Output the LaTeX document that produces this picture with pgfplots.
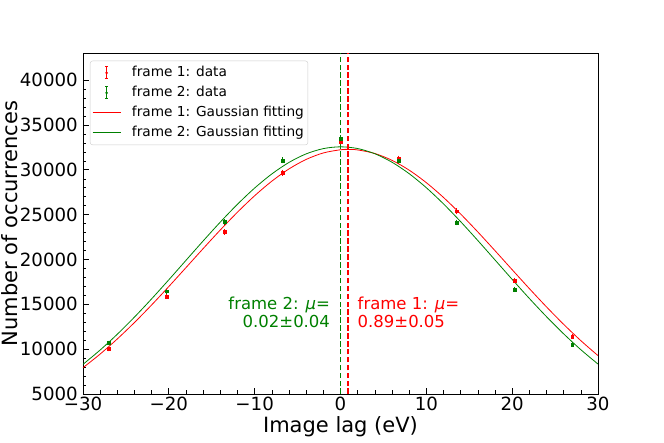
\documentclass[border=0pt]{standalone}
\usepackage{pgfplots}
\pgfplotsset{compat=1.18}
\usepackage{fontspec}
\setmainfont{DejaVu Sans}
\definecolor{mplgreen}{RGB}{0,128,0}
\definecolor{mplred}{RGB}{255,0,0}
\begin{document}
\begin{tikzpicture}
\path[use as bounding box] (-83pt,-49pt) rectangle (581pt,394pt);
\begin{axis}[
  scale only axis, width=515pt, height=340.7pt,
  anchor=south west, at={(0pt,0pt)},
  xmin=-30, xmax=30, ymin=5000, ymax=43000,
  scaled y ticks=false, scaled x ticks=false,
  axis line style={line width=0.8pt, black},
  tick align=inside, tick pos=left,
  major tick length=6pt, minor tick length=3.5pt,
  every tick/.style={black, line width=0.8pt},
  minor tick style={line width=0.6pt},
  xtick={-30,-20,-10,0,10,20,30},
  xticklabels={−30,−20,−10,0,10,20,30},
  ytick={5000,10000,15000,20000,25000,30000,35000,40000},
  yticklabels={5000,10000,15000,20000,25000,30000,35000,40000},
  minor x tick num=4, minor y tick num=4,
  ticklabel style={font=\fontsize{18.2}{21}\selectfont},
  xticklabel style={inner sep=3pt},
  yticklabel style={inner sep=5pt},
  xlabel={Image lag (eV)},
  ylabel={Number of occurrences},
  every axis x label/.style={at={(axis description cs:0.5,0)}, anchor=base, yshift=-38.7pt, font=\fontsize{21}{25}\selectfont},
  every axis y label/.style={at={(axis description cs:-0.1272,0.5)}, rotate=90, anchor=base, font=\fontsize{21}{25}\selectfont},
  legend style={at={(axis description cs:0,1)}, anchor=north west, xshift=7pt, yshift=-7.4pt,
    draw=black!20, rounded corners=2.5pt, fill=white, fill opacity=0.8, text opacity=1,
    font=\fontsize{13.7}{16}\selectfont, inner xsep=2pt, inner ysep=2pt,
    nodes={text height=10.4pt, text depth=3.2pt, inner ysep=3.2pt},
    /tikz/every odd column/.style={column sep=9pt}},
  legend cell align=left,
]
% frame 1 data
\addplot[mplred, only marks, mark=square*, mark size=1.4pt,
  legend image code/.code={
    \draw[mplred, line width=0.8pt] (14pt,-6pt) -- (14pt,6pt);
    \draw[mplred, line width=0.8pt] (12.5pt,-6pt) -- (15.5pt,-6pt);
    \draw[mplred, line width=0.8pt] (12.5pt,6pt) -- (15.5pt,6pt);
    \fill[mplred] (14pt,0pt) circle (1.1pt);},
  error bars/.cd, y dir=both, y explicit,
  error bar style={line width=0.8pt, mplred}, error mark=-, error mark options={mark size=1.5pt, line width=0.8pt}]
  coordinates {
  (-27,10010) +- (0,100)
  (-20.25,15880) +- (0,126)
  (-13.5,23080) +- (0,152)
  (-6.75,29690) +- (0,172)
  (0,33170) +- (0,182)
  (6.75,31250) +- (0,177)
  (13.5,25380) +- (0,159)
  (20.25,17660) +- (0,133)
  (27,11430) +- (0,107)
  };
\addlegendentry{frame 1: data}
% frame 2 data
\addplot[mplgreen, only marks, mark=square*, mark size=1.4pt,
  legend image code/.code={
    \draw[mplgreen, line width=0.8pt] (14pt,-6pt) -- (14pt,6pt);
    \draw[mplgreen, line width=0.8pt] (12.5pt,-6pt) -- (15.5pt,-6pt);
    \draw[mplgreen, line width=0.8pt] (12.5pt,6pt) -- (15.5pt,6pt);
    \fill[mplgreen] (14pt,0pt) circle (1.1pt);},
  error bars/.cd, y dir=both, y explicit,
  error bar style={line width=0.8pt, mplgreen}, error mark=-, error mark options={mark size=1.5pt, line width=0.8pt}]
  coordinates {
  (-27,10680) +- (0,103)
  (-20.25,16470) +- (0,128)
  (-13.5,24190) +- (0,156)
  (-6.75,31060) +- (0,176)
  (0,33500) +- (0,183)
  (6.75,30980) +- (0,176)
  (13.5,24120) +- (0,155)
  (20.25,16660) +- (0,129)
  (27,10530) +- (0,103)
  };
\addlegendentry{frame 2: data}
% frame 1 fit
\addplot[mplred, line width=0.8pt, smooth, no marks,
  legend image code/.code={\draw[mplred, line width=0.8pt] (0pt,0pt) -- (28pt,0pt);}]
  coordinates {
  (-30,7931) (-28,9456) (-26,11143) (-24,12977) (-22,14935) (-20,16988)
  (-18,19098) (-16,21218) (-14,23297) (-12,25281) (-10,27113) (-8,28737)
  (-6,30103) (-4,31164) (-2,31886) (0,32242) (0.89,32280) (2,32222) (4,31824)
  (6,31064) (8,29967) (10,28570) (12,26920) (14,25069) (16,23072) (18,20986)
  (20,18864) (22,16759) (24,14715) (26,12768) (28,10950) (30,9281)
  };
\addlegendentry{frame 1: Gaussian fitting}
% frame 2 fit
\addplot[mplgreen, line width=0.8pt, smooth, no marks,
  legend image code/.code={\draw[mplgreen, line width=0.8pt] (0pt,0pt) -- (28pt,0pt);}]
  coordinates {
  (-30,8309) (-28,9907) (-26,11671) (-24,13583) (-22,15618) (-20,17740)
  (-18,19909) (-16,22073) (-14,24178) (-12,26164) (-10,27972) (-8,29544)
  (-6,30829) (-4,31782) (-2,32369) (0,32570) (2,32377) (4,31797)
  (6,30852) (8,29573) (10,28006) (12,26202) (14,24219) (16,22116) (18,19952)
  (20,17783) (22,15659) (24,13623) (26,11708) (28,9941) (30,8339)
  };
\addlegendentry{frame 2: Gaussian fitting}
% mean lines
\addplot[mplred, line width=1.5pt, dash pattern=on 5.5pt off 2.4pt, forget plot] coordinates {(0.89,5000) (0.89,43000)};
\addplot[mplgreen, line width=1.5pt, dash pattern=on 5.5pt off 2.4pt, forget plot] coordinates {(0.02,5000) (0.02,43000)};
% annotations
\node[anchor=base east, inner sep=0pt, text=mplgreen, font=\fontsize{16.5}{19}\selectfont] at (axis cs:-1.2,14432) {frame 2: \textit{μ}=};
\node[anchor=base east, inner sep=0pt, text=mplgreen, font=\fontsize{16.5}{19}\selectfont] at (axis cs:-1.2,12428) {0.02±0.04};
\node[anchor=base west, inner sep=0pt, text=mplred, font=\fontsize{16.5}{19}\selectfont] at (axis cs:1.98,14432) {frame 1: \textit{μ}=};
\node[anchor=base west, inner sep=0pt, text=mplred, font=\fontsize{16.5}{19}\selectfont] at (axis cs:1.98,12428) {0.89±0.05};
\end{axis}
\end{tikzpicture}
\end{document}
